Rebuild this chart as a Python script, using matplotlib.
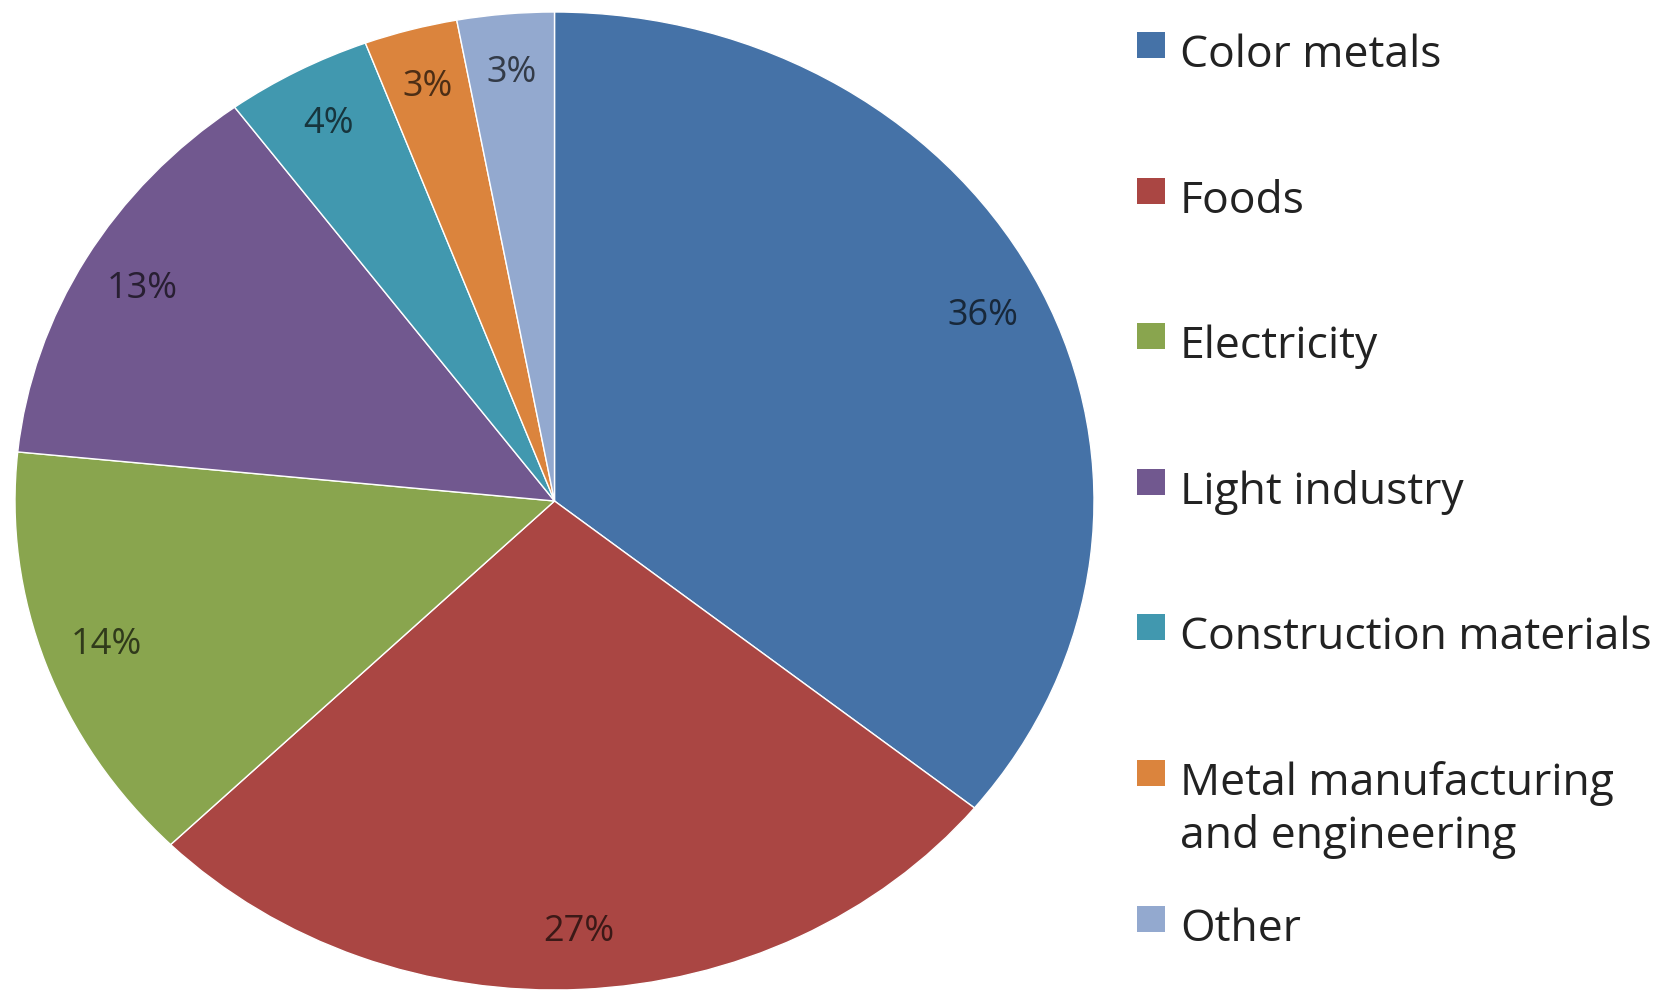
import numpy as np
import matplotlib.pyplot as plt
from matplotlib.patches import Rectangle

# Données (parts en %)
categories = ["Color metals", "Foods", "Electricity", "Light industry",
              "Construction materials", "Metal manufacturing\nand engineering", "Other"]
shares = [35.8, 26.8, 14.0, 13.3, 4.4, 2.8, 2.9]
colors = ["#4572A7", "#AA4643", "#89A54E", "#71588F", "#4198AF", "#DB843D", "#93A9CF"]

plt.rcParams['font.family'] = ['Open Sans', 'DejaVu Sans']

W, H = 1675, 995
fig = plt.figure(figsize=(W / 100, H / 100), dpi=100)

# axes étiré : le camembert est une ellipse dans l'original
left, right, top, bottom = 15, 1094, 13, 991
ax = fig.add_axes([left / W, 1 - bottom / H, (right - left) / W, (bottom - top) / H])

wedges, texts, autotexts = ax.pie(
    shares, colors=colors, startangle=90, counterclock=False,
    autopct=lambda p: f"{p:.0f}%", pctdistance=0.88,
    wedgeprops=dict(edgecolor="white", linewidth=1),
    textprops=dict(fontsize=26))
for t, c in zip(autotexts, colors):
    rgb = np.array(plt.matplotlib.colors.to_rgb(c))
    t.set_color(rgb * 0.35)
ax.set_aspect('auto')
ax.set_xlim(-1, 1)
ax.set_ylim(-1, 1)

# légende faite à la main (espacement fixe comme dans Excel)
x_box, x_txt = 1137, 1180
base0, step, line_step = 67, 145.6, 53
for i, (name, c) in enumerate(zip(categories, colors)):
    base = base0 + i * step
    fig.patches.append(Rectangle((x_box / W, 1 - (base - 8) / H), 28 / W, 26 / H,
                                 transform=fig.transFigure, facecolor=c, edgecolor="none"))
    for j, line in enumerate(name.split("\n")):
        fig.text(x_txt / W, 1 - (base + j * line_step) / H, line, fontsize=32,
                 color="#222222", va="baseline", ha="left")

fig.savefig("out.png", dpi=100, facecolor="white")
